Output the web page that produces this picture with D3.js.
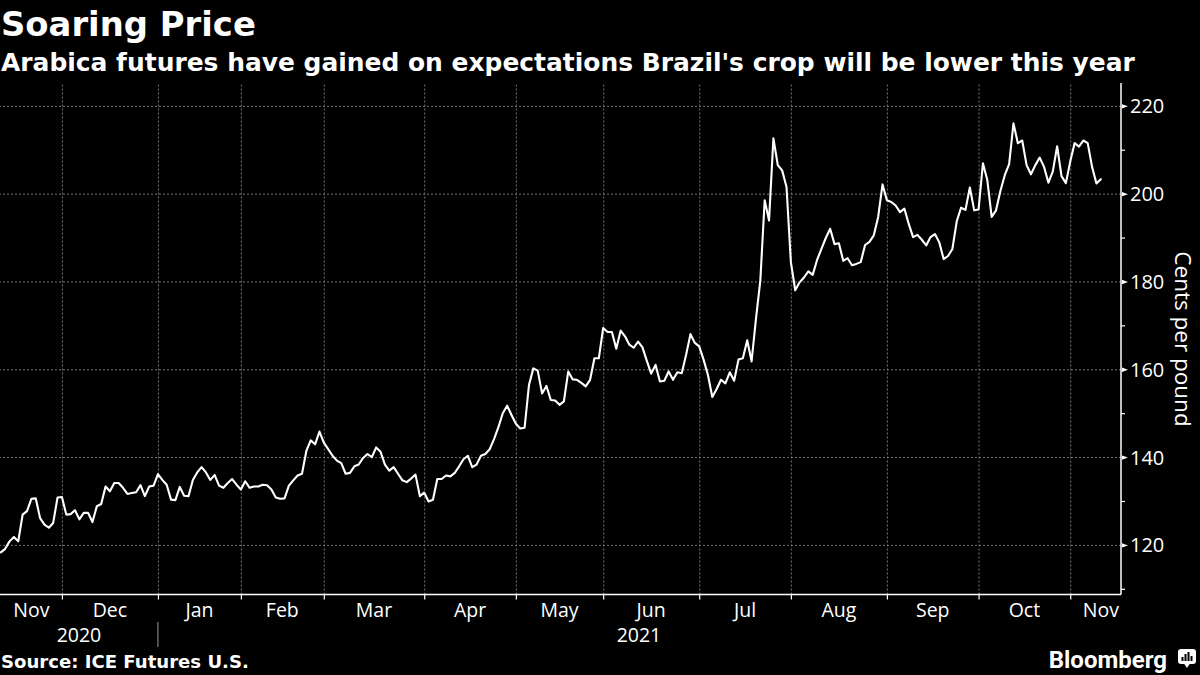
<!DOCTYPE html>
<html><head><meta charset="utf-8">
<script src="https://cdn.jsdelivr.net/npm/d3@7/dist/d3.min.js"></script>
<style>html,body{margin:0;padding:0;background:#000;} svg{display:block;}</style>
</head><body>
<svg id="chart" width="1200" height="675"></svg>
<script>
// ---------- DATA (ICE arabica front-month, cents per pound, one value per trading day) ----------
const monthLabels = ["Nov","Dec","Jan","Feb","Mar","Apr","May","Jun","Jul","Aug","Sep","Oct","Nov"];
const yearLabels  = ["2020","2021"];
const yTickValues  = [120,140,160,180,200,220];
const yMinorValues = [110,130,150,170,190,210];

const nov20 = [118.3,119.1,120.8,121.8,120.8,126.9,127.7,130.5,130.6,126.1,124.6,123.9,125.0,130.8];
const dec20 = [130.9,126.9,127.0,127.9,125.8,127.3,127.3,125.2,128.8,129.3,133.3,132.2,134.1,134.1,133.0,131.6,131.8,132.0,133.6,131.1,133.3,133.5];
const jan21 = [136.1,134.8,133.7,130.3,130.2,133.2,131.2,131.1,134.8,136.5,137.7,136.5,134.8,135.9,133.5,133.0,134.1,135.0,133.7];
const feb21 = [132.6,134.5,133.0,133.3,133.3,133.7,133.6,132.6,130.8,130.5,130.6,133.5,134.7,135.8,136.2,141.4,143.8,142.9,145.8];
const mar21 = [143.3,141.8,140.3,139.2,138.6,136.2,136.4,137.9,138.3,139.8,140.7,140.0,142.2,141.2,138.3,136.9,137.7,136.2,134.7,134.3,135.1,136.0,131.1];
const apr21 = [131.9,129.9,130.3,135.0,135.0,135.8,135.6,136.4,137.9,139.5,140.3,137.7,138.3,140.3,140.7,141.8,144.1,146.8,150.0,151.7,149.6];
const may21 = [147.6,146.5,146.7,156.4,160.2,159.7,154.5,156.2,153.0,152.9,151.9,152.7,159.5,157.7,157.6,156.9,156.1,157.6,162.5,162.5];
const jun21 = [169.4,168.5,168.5,164.7,168.8,167.5,165.6,164.9,166.3,165.0,161.9,159.0,161.0,157.2,157.4,159.5,157.6,159.3,159.1,163.3,168.0,166.0];
const jul21 = [165.2,162.2,158.7,153.7,155.5,157.6,156.8,159.3,157.4,162.2,162.5,166.6,161.8,171.5,180.2,198.5,193.9,212.6,206.5,205.3,201.5];
const aug21 = [184.4,178.0,179.8,180.9,182.3,181.5,184.9,187.4,189.9,192.0,188.5,188.7,184.7,185.3,183.7,184.0,184.4,188.3,189.0,190.5,194.7,202.1];
const sep21 = [198.5,198.1,197.3,195.8,196.6,193.1,190.1,190.6,189.5,188.2,190.1,190.8,188.9,185.1,185.8,187.4,193.7,196.8,196.3,201.4,196.2];
const oct21 = [196.4,206.9,203.1,194.7,196.2,200.6,204.2,206.7,216.0,211.5,212.1,206.5,204.4,206.5,208.2,206.1,202.5,205.0,210.8,204.0,202.4];
const nov21 = [207.3,211.5,210.7,212.1,211.5,206.1,202.3,203.3];

const monthSeries = [nov20,dec20,jan21,feb21,mar21,apr21,may21,jun21,jul21,aug21,sep21,oct21,nov21];

// ---------- BUILD ----------
const values = monthSeries.flat();
const monthStarts = [];
{ let s = 0; monthSeries.forEach(m => { monthStarts.push(s); s += m.length; }); }
const yearStartMonth = 2; // Jan 2021 is the 3rd month block

const svg = d3.select("#chart");
svg.append("rect").attr("width",1200).attr("height",675).attr("fill","#000");

const plotLeft = 0, plotRight = 1121, plotTop = 83, plotBottom = 594.5;
const x = d3.scaleLinear().domain([0, values.length - 1 + 4.4]).range([0.8, 1120]);
const y = d3.scaleLinear().domain([108.7, 225.2]).range([plotBottom, plotTop]);

const tickFont = "'Open Sans', 'Noto Sans', sans-serif";

// horizontal grid
const gy = svg.append("g").attr("transform", `translate(${plotRight},0)`)
  .call(d3.axisLeft(y).tickValues(yTickValues).tickSize(plotRight - plotLeft).tickFormat(""));
gy.select(".domain").remove();
gy.selectAll("line").attr("stroke","#757575").attr("stroke-width",1).attr("stroke-dasharray","2,2");

// vertical grid at month starts
const gx = svg.append("g").attr("transform", `translate(0,${plotBottom})`)
  .call(d3.axisBottom(x).tickValues(monthStarts.slice(1)).tickSize(-(plotBottom - plotTop)).tickFormat(""));
gx.select(".domain").remove();
gx.selectAll("line").attr("stroke","#757575").attr("stroke-width",1).attr("stroke-dasharray","2,2");

// price line
const line = d3.line().x((d,i) => x(i)).y(d => y(d)).curve(d3.curveLinear);
svg.append("path").datum(values).attr("d", line)
  .attr("fill","none").attr("stroke","#fff").attr("stroke-width",2.1)
  .attr("stroke-linejoin","round").attr("stroke-linecap","round");

// x axis
const xa = svg.append("g").attr("transform", `translate(0,${plotBottom})`)
  .call(d3.axisBottom(x).tickValues(monthStarts.slice(1)).tickSize(5).tickSizeOuter(0).tickFormat(""));
xa.select(".domain").attr("d", `M${plotLeft},0H${plotRight}`).attr("stroke","#fff").attr("stroke-width",1.5);
xa.selectAll(".tick line").attr("stroke","#fff").attr("stroke-width",1.2);

// month labels
const axisEndX = 1120;
monthLabels.forEach((lab,i) => {
  const s = monthStarts[i];
  const isLast = i === monthLabels.length - 1;
  const e = isLast ? null : monthStarts[i+1];
  const t = svg.append("text").text(lab)
    .attr("y", 617).attr("fill","#fff")
    .attr("font-family", tickFont).attr("font-size", 19.5);
  if (isLast) t.attr("x", axisEndX - 1).attr("text-anchor","end");
  else t.attr("x", (x(s) + x(e)) / 2).attr("text-anchor","middle");
});

// year labels + separator
const jan = x(monthStarts[yearStartMonth]);
svg.append("text").text(yearLabels[0]).attr("x", (0 + jan)/2).attr("y", 642)
  .attr("text-anchor","middle").attr("fill","#fff").attr("font-family", tickFont).attr("font-size", 19.5);
svg.append("text").text(yearLabels[1]).attr("x", (jan + axisEndX)/2).attr("y", 642)
  .attr("text-anchor","middle").attr("fill","#fff").attr("font-family", tickFont).attr("font-size", 19.5);
svg.append("line").attr("x1", jan).attr("x2", jan).attr("y1", 622).attr("y2", 647)
  .attr("stroke","#9a9a9a").attr("stroke-width",1);

// y axis (right)
const ya = svg.append("g").attr("transform", `translate(${plotRight},0)`)
  .call(d3.axisRight(y).tickValues(yMinorValues).tickSize(4).tickSizeOuter(0).tickFormat(""));
ya.select(".domain").attr("d", `M0,${plotTop}V${plotBottom}`).attr("stroke","#fff").attr("stroke-width",1.5);
ya.selectAll(".tick line").attr("stroke","#fff").attr("stroke-width",1.2);

const yl = svg.append("g").attr("transform", `translate(${plotRight},0)`)
  .call(d3.axisRight(y).tickValues(yTickValues).tickSize(0).tickPadding(9).tickFormat(d3.format("d")));
yl.select(".domain").remove();
yl.selectAll("text").attr("fill","#fff").attr("font-family", tickFont).attr("font-size", 20).attr("dy","0.35em");
yl.selectAll(".tick").append("path").attr("d","M1,-2.2L7,0L1,2.2Z").attr("fill","#fff");

// y axis title
svg.append("text").text("Cents per pound")
  .attr("transform", `translate(1175,339) rotate(90)`)
  .attr("text-anchor","middle").attr("fill","#fff")
  .attr("font-family", tickFont).attr("font-size", 22.5);

// titles
function fit(sel, target) {
  const w = sel.node().getComputedTextLength();
  const fs = parseFloat(sel.attr("font-size"));
  sel.attr("font-size", fs * target / w);
}
const title = svg.append("text").text("Soaring Price").attr("x",1).attr("y",36)
  .attr("fill","#fff").attr("font-family","'DejaVu Sans', sans-serif").attr("font-weight","bold").attr("font-size",34);
fit(title, 255);
const sub = svg.append("text").text("Arabica futures have gained on expectations Brazil's crop will be lower this year")
  .attr("x",1).attr("y",71)
  .attr("fill","#fff").attr("font-family","'DejaVu Sans', sans-serif").attr("font-weight","bold").attr("font-size",22);
fit(sub, 1134);

// footer
const src = svg.append("text").text("Source: ICE Futures U.S.").attr("x",1).attr("y",668)
  .attr("fill","#fff").attr("font-family","'DejaVu Sans', sans-serif").attr("font-weight","bold").attr("font-size",18);
fit(src, 248);

svg.append("text").text("Bloomberg").attr("x",1167).attr("y",668).attr("text-anchor","end")
  .attr("fill","#fff").attr("font-family","Roboto, 'Liberation Sans', sans-serif").attr("font-weight","bold").attr("font-size",24);

// logo
const logo = svg.append("g").attr("transform","translate(1178,649)");
logo.append("rect").attr("x",0).attr("y",0).attr("width",18).attr("height",15).attr("rx",3).attr("fill","#fff");
logo.append("path").attr("d","M6,14.5L9,19L12,14.5Z").attr("fill","#fff");
[[3.5,8,2],[6.5,5,2],[9.5,3,2],[12.5,7,2]].forEach(([bx,by,bw]) => {
  logo.append("rect").attr("x",bx).attr("y",by).attr("width",bw).attr("height",12-by).attr("fill","#000");
});
</script>
</body></html>
